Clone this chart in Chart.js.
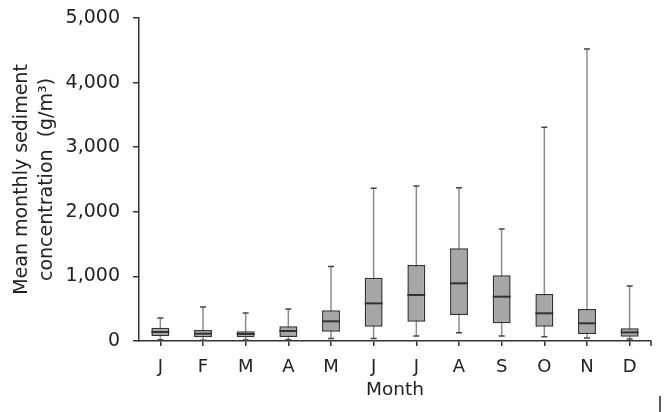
<!DOCTYPE html>
<html>
<head>
<meta charset="utf-8">
<script src="https://cdn.jsdelivr.net/npm/chart.js@4"></script>
<style>
  html, body { margin: 0; padding: 0; background: #fff; }
  #wrap { width: 665px; height: 412px; }
</style>
</head>
<body>
<div id="wrap"><canvas id="grafico"></canvas></div>
<script>
// monthly sediment concentration (g/m3)
var meses = ['J', 'F', 'M', 'A', 'M', 'J', 'J', 'A', 'S', 'O', 'N', 'D'];
var minimo  = [20, 10, 15, 20, 40, 40, 77, 129, 77, 67, 46, 30];
var q1      = [77, 57, 57, 62, 145, 222, 299, 402, 274, 222, 108, 67];
var mediana = [139, 113, 108, 155, 305, 583, 712, 893, 686, 429, 274, 134];
var q3      = [206, 170, 150, 227, 475, 980, 1176, 1435, 1017, 728, 495, 196];
var maximo  = [355, 526, 433, 495, 1155, 2363, 2400, 2373, 1734, 3308, 4520, 851];
var yTicks  = [0, 1000, 2000, 3000, 4000, 5000];

var fuente = 'DejaVu Sans';

// whiskers + medians drawn over the floating bars
var bigotes = {
  id: 'bigotes',
  beforeDatasetsDraw: function (chart) {
    var ctx = chart.ctx, x = chart.scales.x, y = chart.scales.y;
    ctx.save();
    for (var i = 0; i < meses.length; i++) {
      var cx = x.getPixelForValue(i);
      ctx.strokeStyle = '#8c8c8c';
      ctx.lineWidth = 1.5;
      ctx.beginPath();
      ctx.moveTo(cx, y.getPixelForValue(minimo[i]));
      ctx.lineTo(cx, y.getPixelForValue(maximo[i]));
      ctx.stroke();
      ctx.strokeStyle = '#444';
      ctx.beginPath();
      ctx.moveTo(cx - 3, y.getPixelForValue(maximo[i]));
      ctx.lineTo(cx + 3, y.getPixelForValue(maximo[i]));
      ctx.moveTo(cx - 3, y.getPixelForValue(minimo[i]));
      ctx.lineTo(cx + 3, y.getPixelForValue(minimo[i]));
      ctx.stroke();
    }
    ctx.restore();
  },
  afterDatasetsDraw: function (chart) {
    var ctx = chart.ctx, y = chart.scales.y;
    var meta = chart.getDatasetMeta(0);
    ctx.save();
    ctx.strokeStyle = '#333';
    ctx.lineWidth = 2;
    meta.data.forEach(function (bar, i) {
      var py = y.getPixelForValue(mediana[i]);
      ctx.beginPath();
      ctx.moveTo(bar.x - bar.width / 2, py);
      ctx.lineTo(bar.x + bar.width / 2, py);
      ctx.stroke();
    });
    ctx.restore();
  },
  afterDraw: function (chart) {
    // end tick on the x axis + the little stray bar in the corner
    var ctx = chart.ctx, a = chart.chartArea;
    ctx.save();
    ctx.strokeStyle = '#333';
    ctx.lineWidth = 1.5;
    ctx.beginPath();
    ctx.moveTo(a.right, a.bottom);
    ctx.lineTo(a.right, a.bottom + 5);
    ctx.stroke();
    ctx.strokeStyle = '#222';
    ctx.beginPath();
    ctx.moveTo(660, 396);
    ctx.lineTo(660, 412);
    ctx.stroke();
    ctx.restore();
  }
};

var ctx = document.getElementById('grafico').getContext('2d');
new Chart(ctx, {
  type: 'bar',
  data: {
    labels: meses,
    datasets: [{
      label: 'Sediment',
      data: q1.map(function (v, i) { return [v, q3[i]]; }),
      backgroundColor: '#a6a6a6',
      borderColor: '#333',
      borderWidth: 1.5,
      borderSkipped: false,
      barPercentage: 0.42,
      categoryPercentage: 1
    }]
  },
  options: {
    responsive: true,
    maintainAspectRatio: false,
    animation: false,
    layout: { padding: { top: 18, right: 14, left: 0, bottom: 11 } },
    plugins: { legend: { display: false }, tooltip: { enabled: false } },
    scales: {
      x: {
        grid: { offset: false, drawOnChartArea: false, drawTicks: true, tickLength: 5, color: '#333', lineWidth: 1.5 },
        border: { color: '#333', width: 1.5 },
        ticks: { color: '#222', font: { family: fuente, size: 18 }, padding: 11 },
        title: { display: true, text: 'Month', color: '#222', font: { family: fuente, size: 18.5 }, padding: { top: 0, bottom: 0 } },
        afterFit: function (s) { s.height = 60; }
      },
      y: {
        min: 0,
        max: 5000,
        afterBuildTicks: function (s) { s.ticks = yTicks.map(function (v) { return { value: v }; }); },
        grid: { drawOnChartArea: false, drawTicks: true, tickLength: 6, color: '#333', lineWidth: 1.5 },
        border: { color: '#333', width: 1.5 },
        ticks: {
          color: '#222',
          font: { family: fuente, size: 19 },
          padding: 13,
          callback: function (v) { return v.toLocaleString('en-US'); }
        },
        title: {
          display: true,
          text: ['Mean monthly sediment', 'concentration  (g/m³)'],
          color: '#222',
          font: { family: fuente, size: 19, lineHeight: 1.35 },
          padding: { top: 9, bottom: 0 }
        },
        afterFit: function (s) { s.width = 139; s.paddingTop = 0; s.paddingBottom = 0; }
      }
    }
  },
  plugins: [bigotes]
});
</script>
</body>
</html>
